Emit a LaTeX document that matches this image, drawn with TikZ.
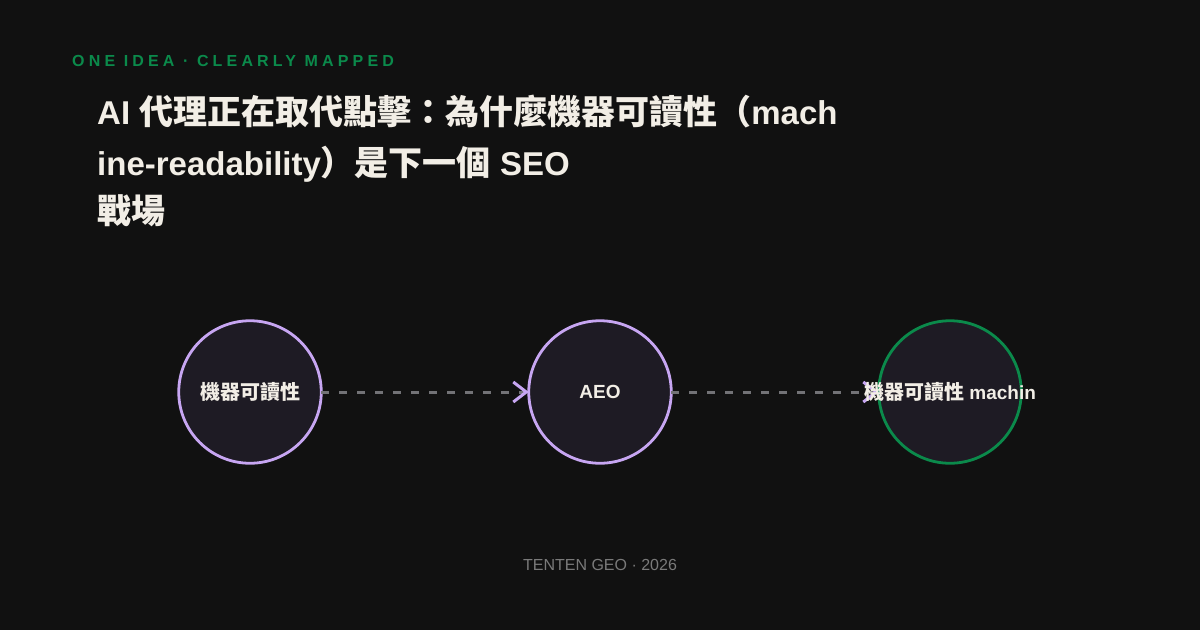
\documentclass[tikz,border=0pt]{standalone}
\usepackage{fontspec}
\setmainfont{Liberation Sans}
\newfontfamily\zh{Noto Sans CJK TC}
\newfontfamily\tracked{Liberation Sans}[LetterSpace=26]
\usetikzlibrary{arrows.meta}
\definecolor{bg}{HTML}{111111}
\definecolor{ink}{HTML}{F2EEE6}
\definecolor{lav}{HTML}{C7A6F2}
\definecolor{geogreen}{HTML}{0B8A4B}
\definecolor{flowgray}{HTML}{727276}
\definecolor{ringfill}{HTML}{1E1B24}
\definecolor{muted}{HTML}{7A7A7A}

\begin{document}
\begin{tikzpicture}[x=1pt,y=-1pt,ring/.style={circle,draw=lav,fill=ringfill,line width=2.8pt,minimum size=142.5pt,inner sep=0pt,outer sep=0pt},lbl/.style={text=ink,font=\bfseries\fontsize{19}{22}\selectfont,inner sep=0pt},flow/.style={draw=flowgray,line width=3pt,dash pattern=on 8pt off 10pt,-{Straight Barb[length=13pt,width=20pt,color=lav]}},headline/.style={anchor=base west,inner sep=0pt,text=ink,font=\bfseries\fontsize{33}{36}\selectfont}]

\fill[bg] (0,0) rectangle (1200,630);
\useasboundingbox (0,0) rectangle (1200,630);

% header
\node[anchor=base west,inner sep=0pt,text=geogreen,font=\tracked\bfseries\fontsize{16}{19}\selectfont] (kicker) at(72,66) {ONE IDEA · CLEARLY MAPPED};
\node[headline] (h1) at(97,124) {AI {\zh\fontsize{34}{40}\selectfont 代理正在取代點擊：為什麼機器可讀性（}mach};
\node[headline] (h2) at(97,175) {ine-readability{\zh\fontsize{34}{40}\selectfont ）是下一個} SEO};
\node[headline] (h3) at(97,223) {{\zh\fontsize{34}{40}\selectfont 戰場}};

% flow
\node[ring] (r1) at(250,392) {};
\node[ring] (r2) at(600,392) {};
\node[ring,draw=geogreen] (r3) at(950,392) {};
\draw[flow] (r1)--(r2);
\draw[flow] (r2)--(r3);
\node[lbl] (t1) at(r1) {{\zh\fontsize{20}{22}\selectfont 機器可讀性}};
\node[lbl] (t2) at(r2) {AEO};
\node[lbl] (t3) at(r3) {{\zh\fontsize{20}{22}\selectfont 機器可讀性} machin};

% footer
\node[anchor=base,inner sep=0pt,text=muted,font=\fontsize{16}{19}\selectfont] (foot) at(600,570) {TENTEN GEO · 2026};
\end{tikzpicture}
\end{document}
